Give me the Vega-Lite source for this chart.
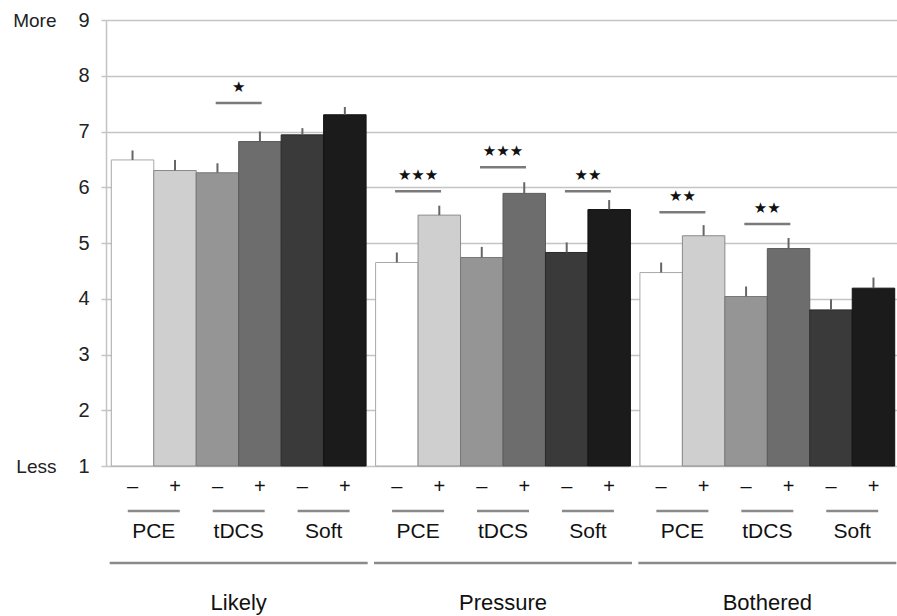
{
  "$schema": "https://vega.github.io/schema/vega-lite/v6.json",
  "width": 794,
  "height": 446,
  "padding": {"left": 12, "top": 10, "right": 0, "bottom": 0},
  "background": "white",
  "config": {
    "view": {"stroke": null},
    "font": "Liberation Sans",
    "text": {"font": "Liberation Sans", "color": "#111"}
  },
  "datasets": {
    "bars": [
      {"group": "Likely", "treat": "PCE", "sign": "–", "cond": "PCE -", "value": 6.49, "upper": 6.66},
      {"group": "Likely", "treat": "PCE", "sign": "+", "cond": "PCE +", "value": 6.30, "upper": 6.49},
      {"group": "Likely", "treat": "tDCS", "sign": "–", "cond": "tDCS -", "value": 6.26, "upper": 6.43},
      {"group": "Likely", "treat": "tDCS", "sign": "+", "cond": "tDCS +", "value": 6.82, "upper": 7.00},
      {"group": "Likely", "treat": "Soft", "sign": "–", "cond": "Soft -", "value": 6.94, "upper": 7.06},
      {"group": "Likely", "treat": "Soft", "sign": "+", "cond": "Soft +", "value": 7.30, "upper": 7.44},
      {"group": "Pressure", "treat": "PCE", "sign": "–", "cond": "PCE -", "value": 4.65, "upper": 4.83},
      {"group": "Pressure", "treat": "PCE", "sign": "+", "cond": "PCE +", "value": 5.50, "upper": 5.67},
      {"group": "Pressure", "treat": "tDCS", "sign": "–", "cond": "tDCS -", "value": 4.74, "upper": 4.93},
      {"group": "Pressure", "treat": "tDCS", "sign": "+", "cond": "tDCS +", "value": 5.89, "upper": 6.09},
      {"group": "Pressure", "treat": "Soft", "sign": "–", "cond": "Soft -", "value": 4.83, "upper": 5.01},
      {"group": "Pressure", "treat": "Soft", "sign": "+", "cond": "Soft +", "value": 5.60, "upper": 5.77},
      {"group": "Bothered", "treat": "PCE", "sign": "–", "cond": "PCE -", "value": 4.47, "upper": 4.65},
      {"group": "Bothered", "treat": "PCE", "sign": "+", "cond": "PCE +", "value": 5.13, "upper": 5.32},
      {"group": "Bothered", "treat": "tDCS", "sign": "–", "cond": "tDCS -", "value": 4.04, "upper": 4.22},
      {"group": "Bothered", "treat": "tDCS", "sign": "+", "cond": "tDCS +", "value": 4.90, "upper": 5.09},
      {"group": "Bothered", "treat": "Soft", "sign": "–", "cond": "Soft -", "value": 3.80, "upper": 3.99},
      {"group": "Bothered", "treat": "Soft", "sign": "+", "cond": "Soft +", "value": 4.19, "upper": 4.38}
    ],
    "pairs": [
      {"group": "Likely", "treat": "PCE"}, {"group": "Likely", "treat": "tDCS"}, {"group": "Likely", "treat": "Soft"},
      {"group": "Pressure", "treat": "PCE"}, {"group": "Pressure", "treat": "tDCS"}, {"group": "Pressure", "treat": "Soft"},
      {"group": "Bothered", "treat": "PCE"}, {"group": "Bothered", "treat": "tDCS"}, {"group": "Bothered", "treat": "Soft"}
    ],
    "groups": [
      {"group": "Likely"}, {"group": "Pressure"}, {"group": "Bothered"}
    ],
    "sig": [
      {"group": "Likely", "treat": "tDCS", "level": 7.51, "stars": "★"},
      {"group": "Pressure", "treat": "PCE", "level": 5.93, "stars": "★★★"},
      {"group": "Pressure", "treat": "tDCS", "level": 6.36, "stars": "★★★"},
      {"group": "Pressure", "treat": "Soft", "level": 5.93, "stars": "★★"},
      {"group": "Bothered", "treat": "PCE", "level": 5.55, "stars": "★★"},
      {"group": "Bothered", "treat": "tDCS", "level": 5.34, "stars": "★★"}
    ]
  },
  "resolve": {"scale": {"xOffset": "independent"}, "axis": {"y": "independent"}},
  "layer": [
    {
      "data": {"name": "bars"},
      "mark": {"type": "bar", "strokeWidth": 1},
      "encoding": {
        "x": {"field": "group", "type": "nominal", "axis": null,
              "scale": {"domain": ["Likely", "Pressure", "Bothered"], "paddingInner": 0.036, "paddingOuter": 0.02}},
        "xOffset": {"field": "cond", "type": "nominal",
              "scale": {"type": "band", "domain": ["PCE -", "PCE +", "tDCS -", "tDCS +", "Soft -", "Soft +"], "paddingInner": 0, "paddingOuter": 0}},
        "y": {"field": "value", "type": "quantitative",
              "scale": {"domain": [1, 9], "nice": false, "zero": false},
              "axis": {"values": [1, 2, 3, 4, 5, 6, 7, 8, 9], "title": null, "grid": true,
                       "gridColor": "#c4c4c4", "gridWidth": 1.5,
                       "domainColor": "#c4c4c4", "domainWidth": 1.5,
                       "tickColor": "#c4c4c4", "tickWidth": 1.5, "tickSize": 5,
                       "labelFontSize": 20, "labelColor": "#222", "labelPadding": 12,
                       "labelFont": "Liberation Sans"}},
        "y2": {"datum": 1},
        "color": {"field": "cond", "type": "nominal", "legend": null,
                  "scale": {"domain": ["PCE -", "PCE +", "tDCS -", "tDCS +", "Soft -", "Soft +"],
                            "range": ["#ffffff", "#cfcfcf", "#959595", "#6d6d6d", "#3a3a3a", "#1b1b1b"]}},
        "stroke": {"field": "cond", "type": "nominal", "legend": null,
                  "scale": {"domain": ["PCE -", "PCE +", "tDCS -", "tDCS +", "Soft -", "Soft +"],
                            "range": ["#a8a8a8", "#8a8a8a", "#777777", "#5a5a5a", "#2a2a2a", "#111111"]}}
      }
    },
    {
      "data": {"name": "bars"},
      "mark": {"type": "rule", "color": "#666", "strokeWidth": 2},
      "encoding": {
        "x": {"field": "group", "type": "nominal", "axis": null},
        "xOffset": {"field": "cond", "type": "nominal",
              "scale": {"type": "band", "domain": ["PCE -", "PCE +", "tDCS -", "tDCS +", "Soft -", "Soft +"], "paddingInner": 0, "paddingOuter": 0}},
        "y": {"field": "value", "type": "quantitative",
              "axis": {"values": [1, 9], "title": null, "grid": false, "domain": false, "ticks": false,
                       "labelExpr": "datum.value == 9 ? 'More' : 'Less'",
                       "labelFontSize": 19, "labelColor": "#222", "labelPadding": 50,
                       "labelFont": "Liberation Sans", "orient": "left"}},
        "y2": {"field": "upper"}
      }
    },
    {
      "data": {"name": "bars"},
      "mark": {"type": "text", "fontSize": 20, "baseline": "middle", "align": "center", "color": "#111"},
      "encoding": {
        "x": {"field": "group", "type": "nominal", "axis": null},
        "xOffset": {"field": "cond", "type": "nominal",
              "scale": {"type": "band", "domain": ["PCE -", "PCE +", "tDCS -", "tDCS +", "Soft -", "Soft +"], "paddingInner": 0, "paddingOuter": 0}},
        "y": {"datum": 0.617, "type": "quantitative", "axis": null},
        "text": {"field": "sign"}
      }
    },
    {
      "data": {"name": "pairs"},
      "mark": {"type": "tick", "color": "#8a8a8a", "thickness": 2.5, "size": 52, "opacity": 1},
      "encoding": {
        "x": {"field": "group", "type": "nominal", "axis": null},
        "xOffset": {"field": "treat", "type": "nominal",
              "scale": {"type": "band", "domain": ["PCE", "tDCS", "Soft"], "paddingInner": 0, "paddingOuter": 0}},
        "y": {"datum": 0.192, "type": "quantitative", "axis": null}
      }
    },
    {
      "data": {"name": "pairs"},
      "mark": {"type": "text", "fontSize": 21, "baseline": "middle", "align": "center", "color": "#111"},
      "encoding": {
        "x": {"field": "group", "type": "nominal", "axis": null},
        "xOffset": {"field": "treat", "type": "nominal",
              "scale": {"type": "band", "domain": ["PCE", "tDCS", "Soft"], "paddingInner": 0, "paddingOuter": 0}},
        "y": {"datum": -0.19, "type": "quantitative", "axis": null},
        "text": {"field": "treat"}
      }
    },
    {
      "data": {"name": "groups"},
      "mark": {"type": "tick", "color": "#8a8a8a", "thickness": 2.5, "size": 258, "opacity": 1},
      "encoding": {
        "x": {"field": "group", "type": "nominal", "axis": null},
        "y": {"datum": -0.742, "type": "quantitative", "axis": null}
      }
    },
    {
      "data": {"name": "groups"},
      "mark": {"type": "text", "fontSize": 22, "baseline": "middle", "align": "center", "color": "#111"},
      "encoding": {
        "x": {"field": "group", "type": "nominal", "axis": null},
        "y": {"datum": -1.465, "type": "quantitative", "axis": null},
        "text": {"field": "group"}
      }
    },
    {
      "data": {"name": "sig"},
      "mark": {"type": "tick", "color": "#7a7a7a", "thickness": 2.5, "size": 46, "opacity": 1},
      "encoding": {
        "x": {"field": "group", "type": "nominal", "axis": null},
        "xOffset": {"field": "treat", "type": "nominal",
              "scale": {"type": "band", "domain": ["PCE", "tDCS", "Soft"], "paddingInner": 0, "paddingOuter": 0}},
        "y": {"field": "level", "type": "quantitative", "axis": null}
      }
    },
    {
      "data": {"name": "sig"},
      "mark": {"type": "text", "fontSize": 15, "baseline": "middle", "align": "center", "dy": -16, "font": "DejaVu Sans", "color": "#111"},
      "encoding": {
        "x": {"field": "group", "type": "nominal", "axis": null},
        "xOffset": {"field": "treat", "type": "nominal",
              "scale": {"type": "band", "domain": ["PCE", "tDCS", "Soft"], "paddingInner": 0, "paddingOuter": 0}},
        "y": {"field": "level", "type": "quantitative", "axis": null},
        "text": {"field": "stars"}
      }
    }
  ]
}
